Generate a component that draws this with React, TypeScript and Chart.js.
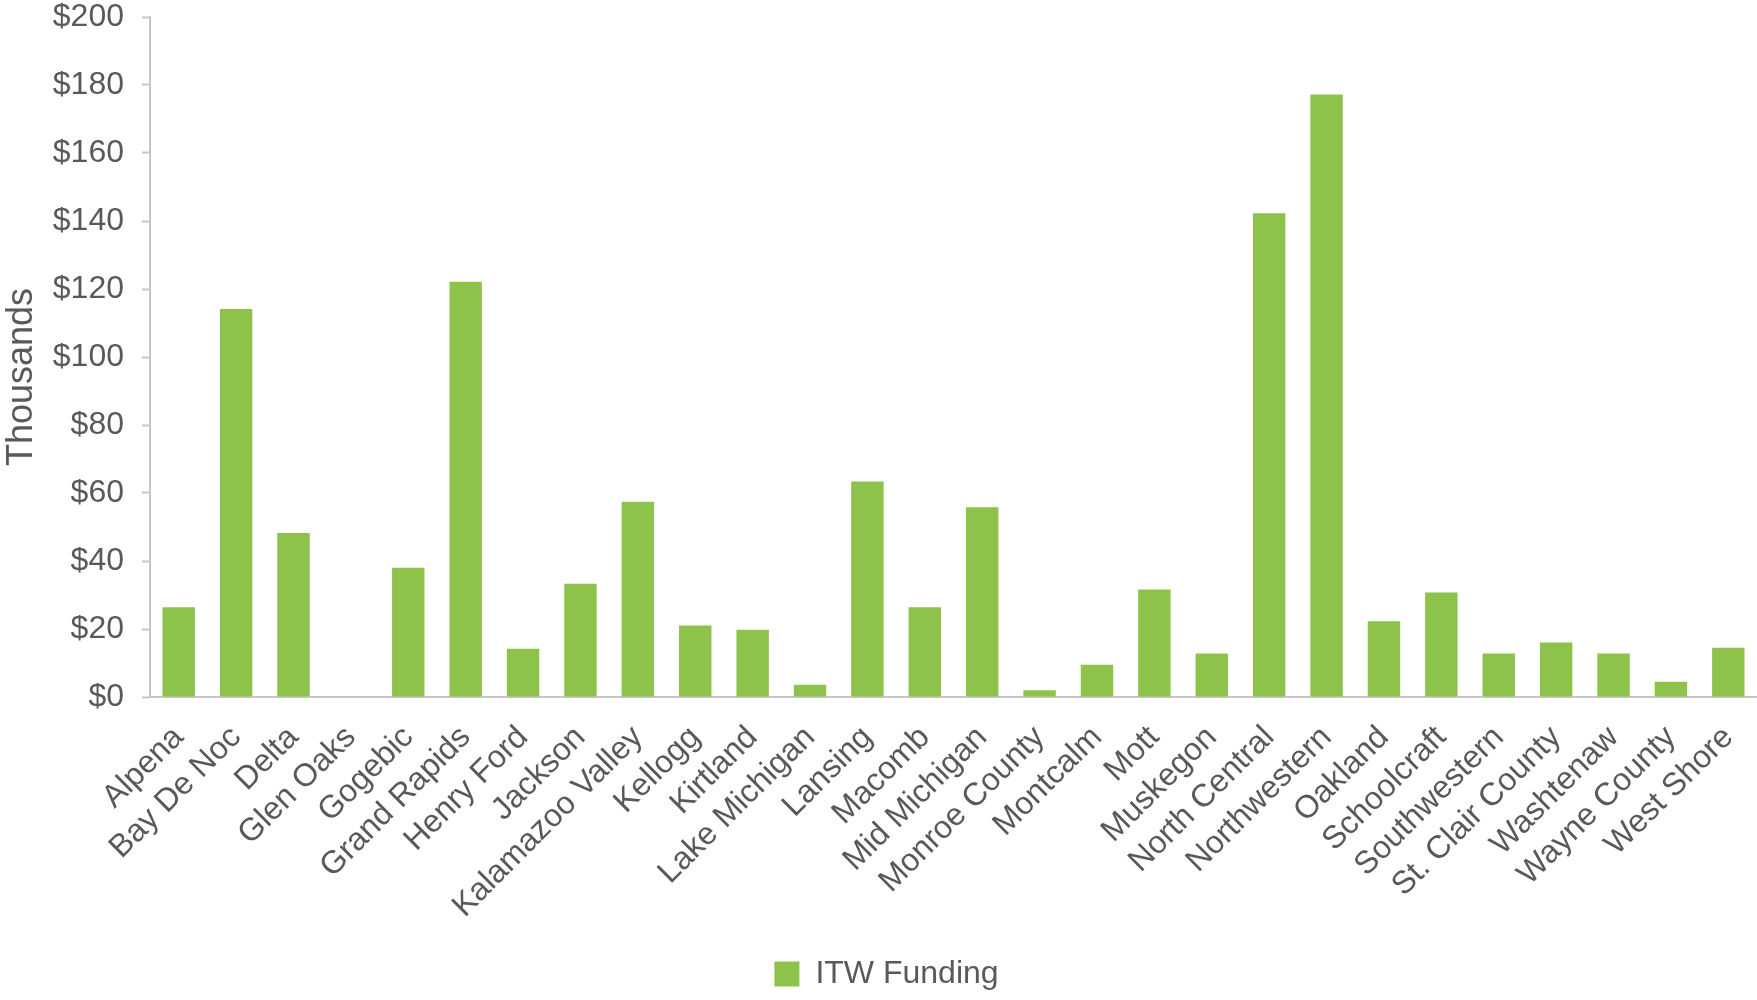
import React, { useEffect, useRef } from "react";
import { Chart, registerables } from "chart.js";

Chart.register(...registerables);

const categories = [
  "Alpena", "Bay De Noc", "Delta", "Glen Oaks", "Gogebic", "Grand Rapids", "Henry Ford",
  "Jackson", "Kalamazoo Valley", "Kellogg", "Kirtland", "Lake Michigan", "Lansing", "Macomb",
  "Mid Michigan", "Monroe County", "Montcalm", "Mott", "Muskegon", "North Central",
  "Northwestern", "Oakland", "Schoolcraft", "Southwestern", "St. Clair County", "Washtenaw",
  "Wayne County", "West Shore",
];

const itwFunding = [
  26.4, 114.1, 48.2, 0, 38.0, 122.1, 14.2,
  33.3, 57.4, 21.0, 19.8, 3.6, 63.4, 26.4,
  55.8, 2.0, 9.5, 31.6, 12.8, 142.3,
  177.2, 22.3, 30.7, 12.8, 16.0, 12.8,
  4.5, 14.5,
];

const yTicks = [0, 20, 40, 60, 80, 100, 120, 140, 160, 180, 200];
const seriesLabel = "ITW Funding";
const yTitle = "Thousands";

const GREEN = "#8DC34B";
const TEXT = "#595959";
const AXIS = "#C6C6C6";
const FONT = "'Liberation Sans', Arial, sans-serif";

export default function App() {
  const ref = useRef<HTMLCanvasElement>(null);

  useEffect(() => {
    document.body.style.margin = "0";
    const chart = new Chart(ref.current!, {
      type: "bar",
      data: {
        labels: categories,
        datasets: [
          {
            label: seriesLabel,
            data: itwFunding,
            backgroundColor: GREEN,
            borderWidth: 0,
            categoryPercentage: 1,
            barPercentage: 0.565,
          },
        ],
      },
      options: {
        animation: false,
        responsive: false,
        devicePixelRatio: 1,
        layout: { padding: { top: 17, left: 16, right: 0, bottom: 0 } },
        plugins: {
          tooltip: { enabled: false },
          legend: {
            position: "bottom",
            labels: {
              boxWidth: 25,
              boxHeight: 25,
              padding: 10,
              color: TEXT,
              font: { family: FONT, size: 32 },
            },
          },
        },
        scales: {
          x: {
            grid: { display: false },
            border: { display: true, color: AXIS, width: 2 },
            ticks: {
              color: TEXT,
              font: { family: FONT, size: 32, lineHeight: 1.0 },
              maxRotation: 45,
              minRotation: 45,
              autoSkip: false,
              padding: 16,
            },
            afterFit: (scale: any) => {
              scale.height = 251;
              scale.paddingLeft = 0;
              scale.paddingRight = 0;
            },
          },
          y: {
            min: 0,
            max: 200,
            afterBuildTicks: (scale: any) => {
              scale.ticks = yTicks.map((v) => ({ value: v }));
            },
            grid: {
              display: true,
              drawOnChartArea: false,
              drawTicks: true,
              tickLength: 8,
              tickColor: AXIS,
              tickWidth: 2,
            },
            border: { display: true, color: AXIS, width: 2 },
            ticks: {
              color: TEXT,
              font: { family: FONT, size: 32 },
              padding: 18,
              callback: (v: any) => "$" + v,
            },
            title: {
              display: true,
              text: yTitle + "    ",
              color: TEXT,
              font: { family: FONT, size: 36 },
              padding: { top: -16, bottom: 0 },
            },
            afterFit: (scale: any) => {
              scale.width = 134;
              scale.paddingTop = 0;
              scale.paddingBottom = 0;
            },
          },
        },
      },
    });
    return () => chart.destroy();
  }, []);

  return (
    <div style={{ position: "absolute", left: 0, top: 0, width: 1757, height: 1000 }}>
      <canvas ref={ref} width={1757} height={1000} />
    </div>
  );
}
